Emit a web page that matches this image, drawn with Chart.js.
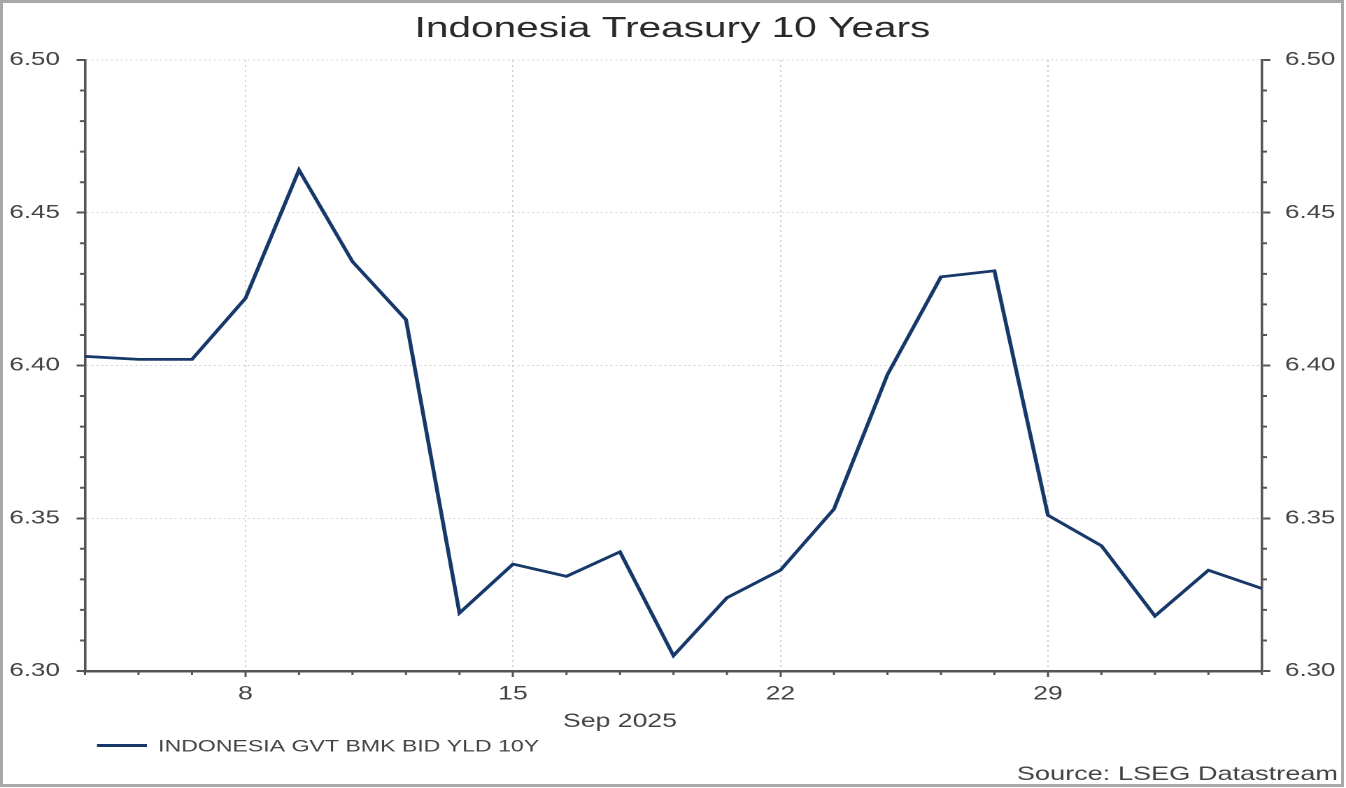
<!DOCTYPE html>
<html>
<head>
<meta charset="utf-8">
<script src="https://cdn.jsdelivr.net/npm/chart.js@4.4.1/dist/chart.umd.min.js"></script>
<style>
html, body { margin: 0; padding: 0; background: #fff; }
/* the original picture is stretched sideways, so the chart is drawn narrow and widened */
#wrap { position: absolute; left: 0; top: 0; width: 962px; height: 788px; transform: scaleX(1.39917); transform-origin: 0 0; }
#frame { position: absolute; left: 0; top: 0; width: 1344px; height: 787px; box-sizing: border-box; border: 3px solid #a8a8a8; pointer-events: none; }
</style>
</head>
<body>
<div id="wrap"><canvas id="chart"></canvas></div>
<div id="frame"></div>
<script>
// trading days, Sep 3 - Oct 3 2025
const dates = [
    '2025-09-03', '2025-09-04', '2025-09-05',
    '2025-09-08', '2025-09-09', '2025-09-10', '2025-09-11', '2025-09-12',
    '2025-09-15', '2025-09-16', '2025-09-17', '2025-09-18', '2025-09-19',
    '2025-09-22', '2025-09-23', '2025-09-24', '2025-09-25', '2025-09-26',
    '2025-09-29', '2025-09-30', '2025-10-01', '2025-10-02', '2025-10-03'
];
const yields = [
    6.403, 6.402, 6.402,
    6.422, 6.464, 6.434, 6.415, 6.319,
    6.335, 6.331, 6.339, 6.305, 6.324,
    6.333, 6.353, 6.397, 6.429, 6.431,
    6.351, 6.341, 6.318, 6.333, 6.327
];
const majorDates = ['2025-09-08', '2025-09-15', '2025-09-22', '2025-09-29'];
const yMin = 6.30;
const yMax = 6.50;
const yStep = 0.05;

const seriesName = 'INDONESIA GVT BMK BID YLD 10Y';
const titleText = 'Indonesia Treasury 10 Years';
const monthText = 'Sep 2025';
const sourceText = 'Source: LSEG Datastream';

const FONT = "'Liberation Sans', Arial, sans-serif";
const AXIS = '#555555';
const LINE = '#17396a';
const GRID = '#d2d2d2';

function isMajor(i) {
    return majorDates.indexOf(dates[i]) !== -1;
}

const minorTicks = {
    id: 'minorTicks',
    afterDraw(chart) {
        const ctx = chart.ctx;
        const x = chart.scales.x, y = chart.scales.y, y2 = chart.scales.y2;
        ctx.save();
        ctx.strokeStyle = AXIS;
        ctx.lineWidth = 1.5;
        ctx.beginPath();
        for (let i = 0; i < dates.length; i++) {
            if (isMajor(i)) continue;
            const px = x.getPixelForValue(i);
            ctx.moveTo(px, x.top);
            ctx.lineTo(px, x.top + 4);
        }
        ctx.stroke();
        ctx.lineWidth = 2;
        ctx.beginPath();
        for (let k = 1; k < 20; k++) {
            if (k % 5 === 0) continue;
            const py = y.getPixelForValue(yMin + k * 0.01);
            ctx.moveTo(y.right - 3.6, py);
            ctx.lineTo(y.right, py);
            ctx.moveTo(y2.left, py);
            ctx.lineTo(y2.left + 3.6, py);
        }
        ctx.stroke();
        ctx.restore();
    }
};

const texts = {
    id: 'texts',
    afterDraw(chart) {
        const ctx = chart.ctx;
        const x = chart.scales.x;
        ctx.save();
        ctx.fillStyle = '#2a2a2a';
        ctx.font = '29px ' + FONT;
        ctx.textAlign = 'center';
        ctx.textBaseline = 'alphabetic';
        ctx.fillText(titleText, 480.6, 37);

        ctx.fillStyle = '#444';
        ctx.font = '19px ' + FONT;
        ctx.fillText(monthText, x.getPixelForValue(10), 727);

        // legend
        ctx.strokeStyle = LINE;
        ctx.lineWidth = 3;
        ctx.beginPath();
        ctx.moveTo(69.3, 745.5);
        ctx.lineTo(105, 745.5);
        ctx.stroke();
        ctx.textAlign = 'left';
        ctx.font = '16.5px ' + FONT;
        ctx.fillText(seriesName, 113, 751.5);

        ctx.textAlign = 'right';
        ctx.font = '19.4px ' + FONT;
        ctx.fillText(sourceText, 956.3, 780);
        ctx.restore();
    }
};

const ctx = document.getElementById('chart').getContext('2d');
const chart = new Chart(ctx, {
    type: 'line',
    data: {
        labels: dates,
        datasets: [{
            label: seriesName,
            data: yields,
            yAxisID: 'y',
            borderColor: LINE,
            borderWidth: 2.8,
            pointRadius: 0,
            tension: 0,
            fill: false
        }]
    },
    options: {
        responsive: true,
        maintainAspectRatio: false,
        devicePixelRatio: 2,
        animation: false,
        layout: { padding: { top: 60, bottom: 77, left: 0, right: 0 } },
        plugins: {
            legend: { display: false },
            title: { display: false },
            tooltip: { enabled: false }
        },
        scales: {
            x: {
                type: 'category',
                offset: false,
                afterFit(s) { s.height = 40; },
                grid: {
                    drawOnChartArea: true,
                    color: (c) => isMajor(c.index) ? GRID : 'rgba(0,0,0,0)',
                    lineWidth: 1,
                    tickLength: 6,
                    tickWidth: 1.5,
                    tickColor: (c) => isMajor(c.index) ? AXIS : 'rgba(0,0,0,0)'
                },
                border: { display: true, color: AXIS, width: 2.5, dash: [2, 3] },
                ticks: {
                    autoSkip: false,
                    maxRotation: 0,
                    padding: 6,
                    color: '#444',
                    font: { family: FONT, size: 19 },
                    callback: function (v, i) {
                        return isMajor(i) ? String(Number(dates[i].slice(8))) : '';
                    }
                }
            },
            y: {
                position: 'left',
                min: yMin,
                max: yMax,
                afterFit(s) { s.width = 60.75; },
                grid: {
                    color: GRID,
                    lineWidth: 1,
                    tickLength: 6,
                    tickWidth: 2,
                    tickColor: AXIS
                },
                border: { display: true, color: AXIS, width: 1.8, dash: [1.4, 2.1] },
                ticks: {
                    stepSize: yStep,
                    padding: 12,
                    color: '#444',
                    font: { family: FONT, size: 18.5 },
                    callback: (v) => v.toFixed(2)
                }
            },
            y2: {
                position: 'right',
                min: yMin,
                max: yMax,
                afterFit(s) { s.width = 60.1; },
                grid: {
                    drawOnChartArea: false,
                    tickLength: 6,
                    tickWidth: 2,
                    tickColor: AXIS
                },
                border: { display: true, color: AXIS, width: 1.8 },
                ticks: {
                    stepSize: yStep,
                    padding: 10.5,
                    color: '#444',
                    font: { family: FONT, size: 18.5 },
                    callback: (v) => v.toFixed(2)
                }
            }
        }
    },
    plugins: [minorTicks, texts]
});
</script>
</body>
</html>
